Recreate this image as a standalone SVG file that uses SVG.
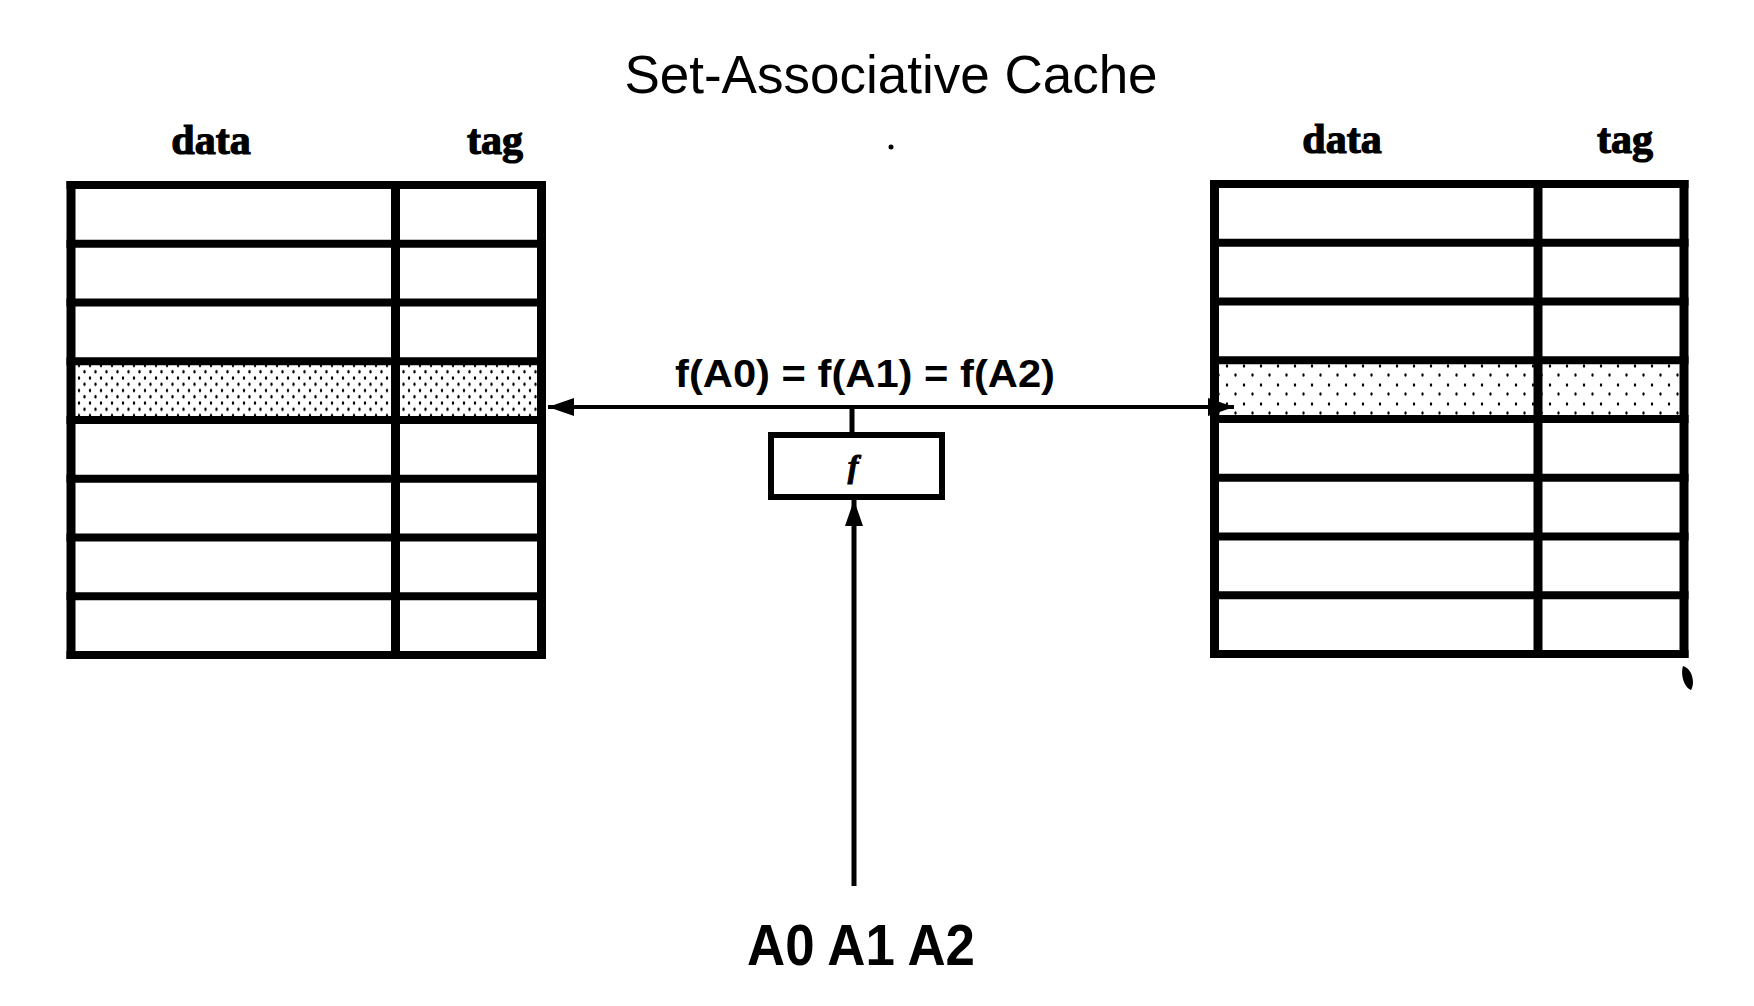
<svg xmlns="http://www.w3.org/2000/svg" width="1754" height="1006" viewBox="0 0 1754 1006">
  <style>
    .hl { stroke: #000; stroke-width: 8; fill: none; }
    .vl { stroke: #000; stroke-width: 9; fill: none; }
    .hdr { font-family: "Liberation Serif", "Times New Roman", serif; font-weight: bold; font-size: 42px; fill: #000; stroke: #000; stroke-width: 1.2; text-anchor: middle; }
    .title { font-family: "Liberation Sans", Arial, sans-serif; font-size: 53px; fill: #000; text-anchor: middle; }
    .lbl { font-family: "Liberation Sans", Arial, sans-serif; font-weight: bold; fill: #000; }
    .conn { stroke: #000; fill: none; }
  </style>
  <defs>
    <pattern id="stippleL" width="11" height="12.5" patternUnits="userSpaceOnUse">
      <ellipse cx="2" cy="3" rx="1.2" ry="1.8" fill="#000"/>
      <ellipse cx="7.5" cy="9.2" rx="1.2" ry="1.8" fill="#000"/>
    </pattern>
    <pattern id="stippleR" width="17" height="19" patternUnits="userSpaceOnUse">
      <ellipse cx="3" cy="5" rx="1.2" ry="1.8" fill="#000"/>
      <ellipse cx="11.5" cy="14" rx="1.2" ry="1.8" fill="#000"/>
    </pattern>
    <marker id="arrow" viewBox="0 0 26 18" refX="26" refY="9" markerWidth="26" markerHeight="18" markerUnits="userSpaceOnUse" orient="auto">
      <path d="M0,0 L26,9 L0,18 z" fill="#000"/>
    </marker>
  </defs>

  <rect width="1754" height="1006" fill="#fff"/>

  <g id="title">
    <text class="title" x="891" y="93">Set-Associative Cache</text>
    <circle cx="891" cy="147" r="2.5" fill="#000"/>
  </g>

  <g id="cache-left">
    <text class="hdr" x="211" y="154">data</text>
    <text class="hdr" x="495" y="154">tag</text>
    <rect x="75" y="364" width="463" height="52" fill="url(#stippleL)"/>
    <line class="hl" x1="66.5" y1="185" x2="546" y2="185"/>
    <line class="hl" x1="66.5" y1="243.75" x2="546" y2="243.75"/>
    <line class="hl" x1="66.5" y1="302.5" x2="546" y2="302.5"/>
    <line class="hl" x1="66.5" y1="361.25" x2="546" y2="361.25"/>
    <line class="hl" x1="66.5" y1="420" x2="546" y2="420"/>
    <line class="hl" x1="66.5" y1="478.75" x2="546" y2="478.75"/>
    <line class="hl" x1="66.5" y1="537.5" x2="546" y2="537.5"/>
    <line class="hl" x1="66.5" y1="596.25" x2="546" y2="596.25"/>
    <line class="hl" x1="66.5" y1="655" x2="546" y2="655"/>
    <line class="vl" x1="71" y1="181" x2="71" y2="659"/>
    <line class="vl" x1="395.5" y1="181" x2="395.5" y2="659"/>
    <line class="vl" x1="541.5" y1="181" x2="541.5" y2="659"/>
  </g>

  <g id="cache-right">
    <text class="hdr" x="1342" y="153">data</text>
    <text class="hdr" x="1625" y="153">tag</text>
    <rect x="1218" y="364" width="462" height="52" fill="url(#stippleR)"/>
    <line class="hl" x1="1210" y1="184" x2="1688.5" y2="184"/>
    <line class="hl" x1="1210" y1="242.75" x2="1688.5" y2="242.75"/>
    <line class="hl" x1="1210" y1="301.5" x2="1688.5" y2="301.5"/>
    <line class="hl" x1="1210" y1="360.25" x2="1688.5" y2="360.25"/>
    <line class="hl" x1="1210" y1="419" x2="1688.5" y2="419"/>
    <line class="hl" x1="1210" y1="477.75" x2="1688.5" y2="477.75"/>
    <line class="hl" x1="1210" y1="536.5" x2="1688.5" y2="536.5"/>
    <line class="hl" x1="1210" y1="595.25" x2="1688.5" y2="595.25"/>
    <line class="hl" x1="1210" y1="654" x2="1688.5" y2="654"/>
    <line class="vl" x1="1214.5" y1="180" x2="1214.5" y2="658"/>
    <line class="vl" x1="1538" y1="180" x2="1538" y2="658"/>
    <line class="vl" x1="1684" y1="180" x2="1684" y2="658"/>
    <path d="M1683,666 C1693,669 1695,684 1691,690 C1685,688 1680,676 1683,666 z" fill="#000"/>
  </g>

  <g id="hash-f">
    <rect x="771" y="435" width="171" height="62" fill="#fff" stroke="#000" stroke-width="6"/>
    <text x="853" y="477" text-anchor="middle" font-family="'Liberation Serif', 'Times New Roman', serif" font-weight="bold" font-style="italic" font-size="32px" fill="#000" stroke="#000" stroke-width="1">f</text>
  </g>

  <g id="label-eq">
    <text class="lbl" x="675" y="387" font-size="39px" textLength="380" lengthAdjust="spacingAndGlyphs">f(A0) = f(A1) = f(A2)</text>
  </g>

  <g id="addresses">
    <text class="lbl" x="747" y="965" font-size="57px" textLength="228" lengthAdjust="spacingAndGlyphs">A0 A1 A2</text>
  </g>

  <g id="connectors">
    <path class="conn" stroke-width="4" d="M852,407 L548,407" marker-end="url(#arrow)"/>
    <path class="conn" stroke-width="4" d="M852,407 L1234,407" marker-end="url(#arrow)"/>
    <path class="conn" stroke-width="5" d="M852,405 L852,433"/>
    <path class="conn" stroke-width="5" d="M854,886 L854,500" marker-end="url(#arrow)"/>
  </g>
</svg>
